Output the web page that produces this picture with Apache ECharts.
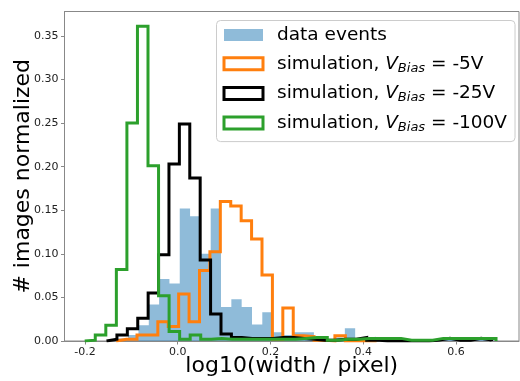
<!DOCTYPE html>
<html>
<head>
<meta charset="utf-8">
<script src="https://cdn.jsdelivr.net/npm/echarts@6/dist/echarts.min.js"></script>
<style>
  html, body { margin: 0; padding: 0; background: #fff; }
  #chart { width: 520px; height: 381px; }
</style>
</head>
<body>
<div id="chart"></div>
<script>
// x ticks / y ticks
const xTicks = [-0.2, 0.0, 0.2, 0.4, 0.6];
const yTicks = [0, 0.05, 0.1, 0.15, 0.2, 0.25, 0.3, 0.35];

// data events (filled histogram)
const dataStart = -0.129, dataWidth = 0.02225;
const dataValues = [0.003, 0.007, 0.018, 0.042, 0.071, 0.066, 0.152, 0.143, 0.100, 0.152,
  0.039, 0.048, 0.039, 0.019, 0.033, 0.010, 0.007, 0.010, 0.010, 0.002,
  0.001, 0.004, 0.0145, 0.003, 0.005, 0.001, 0.001, 0.001, 0, 0,
  0.001, 0.003, 0.002, 0.001, 0.003, 0.001, 0.001];

// simulation, -5V
const v5Start = -0.1326, v5Width = 0.02246;
const v5Values = [0.002, 0.002, 0.007, 0.007, 0.022, 0.0165, 0.054, 0.022, 0.081, 0.1025,
  0.160, 0.155, 0.138, 0.117, 0.0758, 0.002, 0.038, 0.006, 0.005, 0.001,
  0, 0.006, 0, 0, 0];

// simulation, -25V
const v25Start = -0.1534, v25Width = 0.02244;
const v25Values = [0.002, 0.007, 0.014, 0.026, 0.055, 0.099, 0.203, 0.249, 0.187, 0.093,
  0.031, 0.008, 0.004, 0.003, 0.003, 0.003, 0.004, 0.004, 0.003, 0.002,
  0.001, 0.001, 0.002, 0.002, 0.004, 0.001, 0, 0, 0, 0,
  0, 0.001, 0.003, 0.001, 0.001, 0.003, 0.001];

// simulation, -100V
const v100Start = -0.2004, v100Width = 0.02274;
const v100Values = [0.001, 0.007, 0.018, 0.082, 0.250, 0.361, 0.201, 0.052, 0.011, 0.002,
  0.007, 0.002, 0.003, 0.002, 0.002, 0.002, 0.002, 0.002, 0.002, 0.002,
  0.003, 0.004, 0.004, 0.001, 0.002, 0.002, 0.003, 0.003, 0.003, 0.003,
  0.001, 0.001, 0.001, 0.003, 0.003, 0.003, 0.003, 0.003, 0.003];

// outline of a histogram, like histtype='step'
function stepPoints(start, width, values) {
  const pts = [[start, 0]];
  values.forEach((v, i) => {
    pts.push([start + i * width, v], [start + (i + 1) * width, v]);
  });
  pts.push([start + values.length * width, 0]);
  return pts;
}

function stepSeries(name, color, start, width, values) {
  return {
    name: name,
    type: 'line',
    data: stepPoints(start, width, values),
    symbol: 'none',
    lineStyle: { color: color, width: 3, join: 'miter' },
    itemStyle: { color: color },
    animation: false
  };
}

const font = 'DejaVu Sans';
const volts = { sim5: '-5V', sim25: '-25V', sim100: '-100V' };

const chart = echarts.init(document.getElementById('chart'));
chart.setOption({
  backgroundColor: '#fff',
  animation: false,
  grid: {
    left: 64.5, top: 11.5, right: 1, bottom: 40,
    show: true, borderColor: '#888', borderWidth: 1,
    outerBoundsMode: 'none'
  },
  xAxis: {
    type: 'value', min: -0.244, max: 0.736,
    splitLine: { show: false },
    axisLine: { onZero: false, lineStyle: { color: '#888' } },
    axisTick: { length: 3.5, lineStyle: { color: '#888' }, customValues: xTicks },
    axisLabel: {
      customValues: xTicks, margin: 6, color: '#222', fontSize: 11, fontFamily: font,
      formatter: v => v.toFixed(1)
    },
    name: 'log10(width / pixel)', nameLocation: 'middle', nameGap: 14, nameMoveOverlap: false,
    nameTextStyle: { fontSize: 22, color: '#000', fontFamily: font }
  },
  yAxis: {
    type: 'value', min: 0, max: 0.378,
    splitLine: { show: false },
    axisLine: { onZero: false, lineStyle: { color: '#888' } },
    axisTick: { length: 3.5, lineStyle: { color: '#888' }, customValues: yTicks },
    axisLabel: {
      customValues: yTicks, margin: 6, color: '#222', fontSize: 11, fontFamily: font,
      formatter: v => v.toFixed(2)
    },
    name: '# images normalized', nameLocation: 'middle', nameGap: 30, nameRotate: 90, nameMoveOverlap: false,
    nameTextStyle: { fontSize: 22, color: '#000', fontFamily: font }
  },
  legend: {
    orient: 'vertical', left: 216.5, top: 20.5,
    itemWidth: 39, itemHeight: 12, itemGap: 7.7,
    padding: [4.5, 8, 7.5, 6],
    backgroundColor: 'rgba(255,255,255,0.8)', borderColor: '#ccc', borderWidth: 1, borderRadius: 4,
    textStyle: {
      fontFamily: font, fontSize: 18.5, color: '#000', lineHeight: 20, padding: [0, 0, 0, 9],
      rich: {
        t: { fontFamily: font, fontSize: 18.5, lineHeight: 20, color: '#000' },
        v: { fontFamily: font, fontSize: 18.5, lineHeight: 20, fontStyle: 'italic', color: '#000' },
        sub: { fontFamily: font, fontSize: 13, lineHeight: 20, fontStyle: 'italic', color: '#000', padding: [9, 0, 0, 0] }
      }
    },
    formatter: n => n === 'data events' ? '{t|data events}'
      : '{t|simulation, }{v|V}{sub|Bias}{t| = ' + volts[n] + '}',
    data: [
      { name: 'data events', icon: 'rect', itemStyle: { color: 'rgba(31,119,180,0.5)', borderWidth: 0 } },
      { name: 'sim5', icon: 'rect', itemStyle: { color: 'rgba(255,255,255,0)', borderColor: '#ff7f0e', borderWidth: 3 } },
      { name: 'sim25', icon: 'rect', itemStyle: { color: 'rgba(255,255,255,0)', borderColor: '#000', borderWidth: 3 } },
      { name: 'sim100', icon: 'rect', itemStyle: { color: 'rgba(255,255,255,0)', borderColor: '#2ca02c', borderWidth: 3 } }
    ]
  },
  series: [
    {
      name: 'data events',
      type: 'line',
      data: stepPoints(dataStart, dataWidth, dataValues),
      symbol: 'none',
      lineStyle: { width: 0 },
      itemStyle: { color: 'rgba(31,119,180,0.5)' },
      areaStyle: { color: '#1f77b4', opacity: 0.5 },
      animation: false
    },
    stepSeries('sim5', '#ff7f0e', v5Start, v5Width, v5Values),
    stepSeries('sim25', '#000', v25Start, v25Width, v25Values),
    stepSeries('sim100', '#2ca02c', v100Start, v100Width, v100Values)
  ]
});
</script>
</body>
</html>
